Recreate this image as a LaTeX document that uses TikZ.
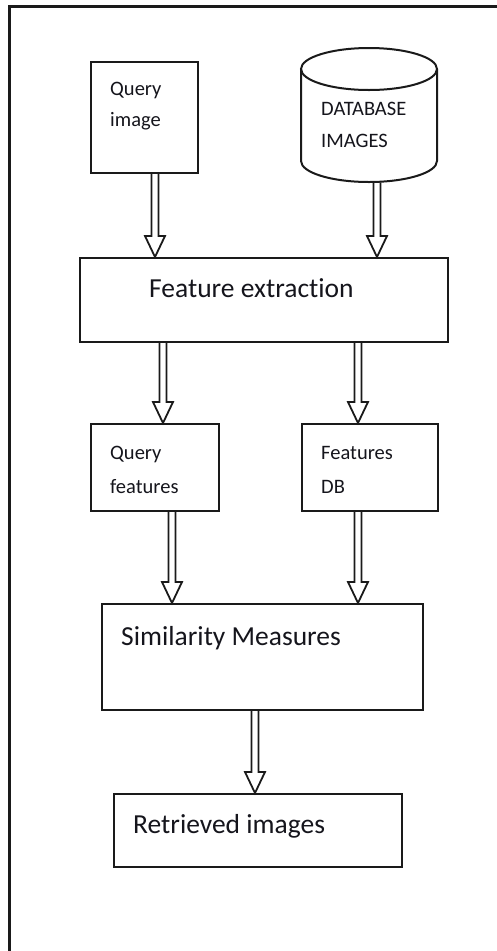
\documentclass[tikz,border=0pt]{standalone}
\usepackage{fontspec}
\setmainfont{Carlito}[Ligatures={NoCommon,NoRare}]
\usetikzlibrary{calc}
\definecolor{ink}{HTML}{1A1A1A}
\definecolor{txt}{HTML}{15151C}
\tikzset{
  box/.style={draw=ink, line width=2pt, rectangle, inner sep=0pt, anchor=north west},
  small/.style={text=txt, inner sep=0pt, anchor=base west, font=\fontsize{20.5}{31}\selectfont},
  big/.style={text=txt, inner sep=0pt, anchor=base west, font=\fontsize{27.5}{33}\selectfont},
  hollow/.style={draw=ink, line width=1.8pt, line join=miter,
    to path={let \p1=(\tikztostart), \p2=(\tikztotarget) in
      (\x1-3.5pt,\y1) -- (\x1-3.5pt,\y2+21pt) -- (\x1-10pt,\y2+21pt) -- (\x1,\y2)
      -- (\x1+10pt,\y2+21pt) -- (\x1+3.5pt,\y2+21pt) -- (\x1+3.5pt,\y1)}}
}
\begin{document}
\begin{tikzpicture}[x=1pt,y=-1pt]
\useasboundingbox (0,0) rectangle (496,951);
% outer frame (cropped)
\draw[ink, line width=2.2pt] (9.5,960) -- (9.5,6.5) -- (505,6.5);
% boxes
\node[box, minimum width=107pt, minimum height=111pt] (qimg) at (90,61) {};
\node[inner sep=0pt, minimum width=136pt, minimum height=134pt, anchor=north west] (db) at (301,48) {};
\draw[ink, line width=2pt] (369,69) ellipse [x radius=68pt, y radius=21pt];
\draw[ink, line width=2pt] (301,69) -- (301,161) arc[start angle=180, end angle=360, x radius=68pt, y radius=21pt] -- (437,69);
\node[box, minimum width=368pt, minimum height=84pt] (fe) at (79,257) {};
\node[box, minimum width=128pt, minimum height=87pt] (qf) at (90,423) {};
\node[box, minimum width=136pt, minimum height=87pt] (fdb) at (301,423) {};
\node[box, minimum width=321pt, minimum height=106pt] (sm) at (101,603) {};
\node[box, minimum width=288pt, minimum height=73pt] (ri) at (113,793) {};
% texts
\node[small] (t1) at (110,95) {Query};
\node[small] (t2) at (110,126) {image};
\node[small] (t3) at (321,115) {DATABASE};
\node[small] (t4) at (321,147) {IMAGES};
\node[big] (t5) at (149,297) {Feature extraction};
\node[small] (t6) at (110,459) {Query};
\node[small] (t7) at (110,493) {features};
\node[small] (t8) at (321,459) {Features};
\node[small] (t9) at (321,493) {DB};
\node[big] (t10) at (121,645) {Similarity Measures};
\node[big] (t11) at (133,833) {Retrieved images};
% arrow x positions
\coordinate (c1) at (155,0);
\coordinate (c2) at (377,0);
\coordinate (c3) at (163,0);
\coordinate (c4) at (358,0);
\coordinate (c5) at (172,0);
\coordinate (c7) at (255,0);
% arrows
\draw[hollow] (qimg.south -| c1) to (fe.north -| c1);
\draw[hollow] (db.south -| c2) to (fe.north -| c2);
\draw[hollow] (fe.south -| c3) to (qf.north -| c3);
\draw[hollow] (fe.south -| c4) to (fdb.north -| c4);
\draw[hollow] (qf.south -| c5) to (sm.north -| c5);
\draw[hollow] (fdb.south -| c4) to (sm.north -| c4);
\draw[hollow] (sm.south -| c7) to (ri.north -| c7);
\end{tikzpicture}
\end{document}
